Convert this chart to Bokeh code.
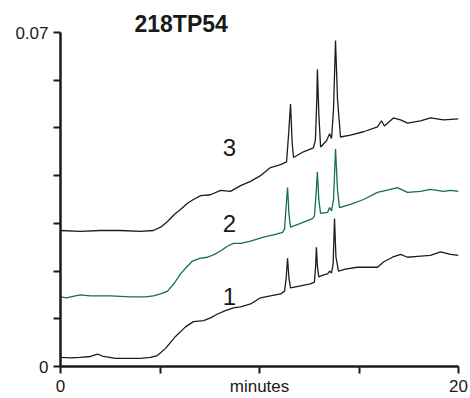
from bokeh.plotting import figure
from bokeh.models import Range1d, FixedTicker, Label
from bokeh.embed import file_html
from bokeh.resources import INLINE

# ---- data (minutes, AU) ----
t1 = [0.00, 0.50, 1.00, 1.50, 1.86, 2.16, 2.76, 3.50, 4.02, 4.52, 4.87, 5.28, 5.78,
      6.28, 6.68, 7.19, 7.54, 7.89, 8.29, 8.69, 9.05, 9.55, 10.05, 10.55, 11.06,
      11.26, 11.34, 11.41, 11.48, 11.56, 12.06, 12.56, 12.76, 12.82, 12.86, 12.91,
      12.98, 13.22, 13.42, 13.52, 13.62, 13.70, 13.77, 13.84, 13.97, 14.32, 14.92,
      15.93, 16.23, 16.68, 17.09, 17.44, 17.94, 18.59, 19.10, 19.60, 20.00]
a1 = [0.0019, 0.0018, 0.0019, 0.0021, 0.0026, 0.0021, 0.0017, 0.0017, 0.0017, 0.0019,
      0.0023, 0.0038, 0.0063, 0.0083, 0.0094, 0.0096, 0.0102, 0.0110, 0.0117, 0.0123,
      0.0125, 0.0131, 0.0144, 0.0148, 0.0152, 0.0158, 0.0185, 0.0227, 0.0185, 0.0165,
      0.0169, 0.0173, 0.0177, 0.0210, 0.0250, 0.0210, 0.0188, 0.0192, 0.0194, 0.0200,
      0.0196, 0.0215, 0.0310, 0.0230, 0.0200, 0.0204, 0.0208, 0.0208, 0.0219, 0.0229,
      0.0235, 0.0229, 0.0231, 0.0233, 0.0240, 0.0235, 0.0233]

t2 = [0.00, 0.30, 0.75, 1.00, 1.50, 2.51, 3.52, 4.27, 4.67, 5.03, 5.38, 5.73, 6.03,
      6.33, 6.63, 7.04, 7.39, 7.74, 8.04, 8.39, 8.69, 9.05, 9.55, 10.20, 10.80, 11.16,
      11.26, 11.33, 11.41, 11.48, 11.56, 12.06, 12.66, 12.76, 12.84, 12.91, 12.98,
      13.07, 13.42, 13.52, 13.62, 13.72, 13.82, 13.92, 14.02, 14.57, 15.23, 15.93,
      16.58, 16.93, 17.44, 18.09, 18.59, 19.25, 19.60, 20.00]
a2 = [0.0146, 0.0144, 0.0148, 0.0150, 0.0148, 0.0148, 0.0146, 0.0146, 0.0148, 0.0152,
      0.0158, 0.0175, 0.0194, 0.0208, 0.0221, 0.0227, 0.0229, 0.0235, 0.0242, 0.0252,
      0.0258, 0.0258, 0.0263, 0.0271, 0.0277, 0.0281, 0.0288, 0.0330, 0.0375, 0.0320,
      0.0292, 0.0300, 0.0310, 0.0315, 0.0360, 0.0408, 0.0350, 0.0321, 0.0323, 0.0333,
      0.0326, 0.0350, 0.0456, 0.0370, 0.0333, 0.0340, 0.0350, 0.0365, 0.0371, 0.0375,
      0.0365, 0.0367, 0.0371, 0.0367, 0.0369, 0.0367]

t3 = [0.00, 1.00, 2.00, 3.00, 4.02, 4.67, 5.03, 5.38, 5.73, 6.03, 6.38, 6.68, 7.04,
      7.54, 8.04, 8.54, 9.05, 9.55, 10.05, 10.55, 11.06, 11.36, 11.46, 11.56, 11.64,
      11.71, 12.21, 12.71, 12.81, 12.88, 12.91, 12.98, 13.07, 13.37, 13.52, 13.62,
      13.72, 13.82, 13.92, 14.07, 14.57, 15.23, 15.93, 16.13, 16.28, 16.73, 17.09,
      17.44, 18.09, 18.59, 19.25, 20.00]
a3 = [0.0285, 0.0283, 0.0285, 0.0285, 0.0283, 0.0285, 0.0292, 0.0304, 0.0319, 0.0329,
      0.0342, 0.0350, 0.0358, 0.0360, 0.0369, 0.0367, 0.0379, 0.0388, 0.0400, 0.0417,
      0.0423, 0.0429, 0.0485, 0.0550, 0.0470, 0.0438, 0.0450, 0.0458, 0.0475, 0.0560,
      0.0623, 0.0530, 0.0460, 0.0473, 0.0488, 0.0478, 0.0540, 0.0683, 0.0560, 0.0481,
      0.0485, 0.0492, 0.0502, 0.0515, 0.0504, 0.0521, 0.0517, 0.0510, 0.0515, 0.0521,
      0.0517, 0.0519]

trace_names = ["1", "2", "3"]
trace_colors = ["#1c1c1c", "#12704a", "#1c1c1c"]
trace_label_x = [8.49, 8.49, 8.49]
trace_label_y = [0.0146, 0.0300, 0.0458]

x_ticks = [0, 5, 10, 15, 20]
x_tick_labels = ["0", "", "minutes", "", "20"]
y_ticks = [0, 0.01, 0.02, 0.03, 0.04, 0.05, 0.06, 0.07]
y_tick_labels = ["0", "", "", "", "", "", "", "0.07"]
title_text = "218TP54"
y_unit = "AU"

FONT = "Liberation Sans"

p = figure(width=470, height=398, x_range=Range1d(0, 20), y_range=Range1d(0, 0.07),
           output_backend="svg", toolbar_location=None,
           min_border_left=60, min_border_right=12, min_border_top=32, min_border_bottom=30)
p.outline_line_color = None
p.xgrid.visible = False
p.ygrid.visible = False
p.background_fill_color = "white"
p.border_fill_color = "white"

p.title.text = title_text
p.title.align = "left"
p.title.offset = 74
p.title.standoff = -8
p.title.text_font = FONT
p.title.text_font_size = "23px"
p.title.text_font_style = "bold"
p.title.text_color = "#1a1a1a"

for ax in (p.xaxis[0], p.yaxis[0]):
    ax.axis_line_width = 2.5
    ax.axis_line_color = "#1a1a1a"
    ax.major_tick_line_width = 2
    ax.major_tick_line_color = "#1a1a1a"
    ax.major_tick_out = 7
    ax.major_tick_in = 0
    ax.minor_tick_line_color = None
    ax.major_label_text_font = FONT
    ax.major_label_text_font_size = "17px"
    ax.major_label_text_color = "#1a1a1a"

p.xaxis.ticker = FixedTicker(ticks=x_ticks)
p.xaxis.major_label_overrides = {t: l for t, l in zip(x_ticks, x_tick_labels)}
p.xaxis.major_label_standoff = 3
p.yaxis.ticker = FixedTicker(ticks=y_ticks)
p.yaxis.major_label_overrides = {t: l for t, l in zip(y_ticks, y_tick_labels)}
p.yaxis.major_label_standoff = 5

for t, a, c in zip([t1, t2, t3], [a1, a2, a3], trace_colors):
    p.line(t, a, line_color=c, line_width=1.3)

for name, lx, ly in zip(trace_names, trace_label_x, trace_label_y):
    p.add_layout(Label(x=lx, y=ly, text=name, text_font=FONT, text_font_size="24px",
                       text_align="center", text_baseline="middle", text_color="#1a1a1a"))

p.add_layout(Label(x=-0.6, y=0.035, text=y_unit, text_font=FONT, text_font_size="17px",
                   text_align="right", text_baseline="middle", text_color="#1a1a1a"))

open("out.html", "w").write(file_html(p, INLINE))
